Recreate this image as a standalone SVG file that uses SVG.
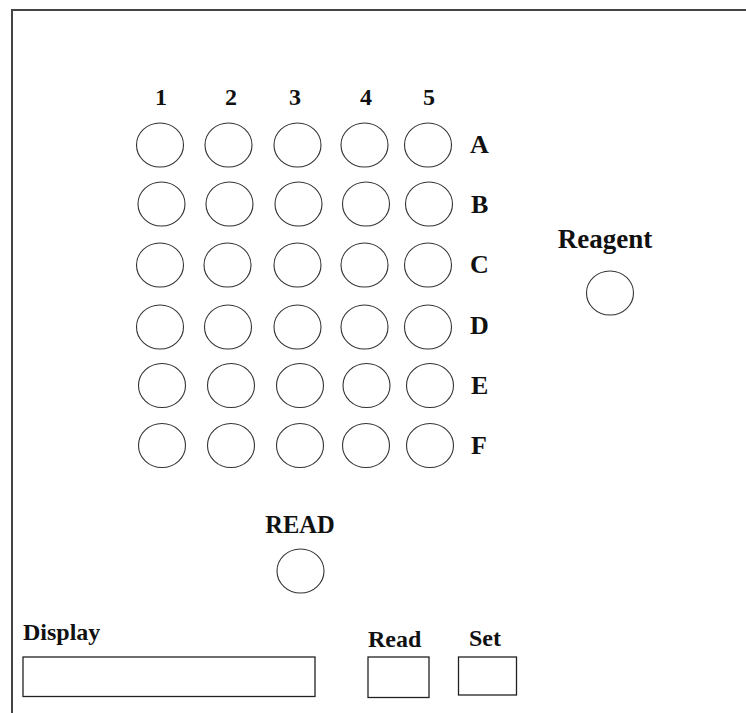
<svg xmlns="http://www.w3.org/2000/svg" width="746" height="713" viewBox="0 0 746 713">
<style>
.well{fill:none;stroke:#333;stroke-width:1.1}
.lbl{font-family:"Liberation Serif","Times New Roman",serif;font-weight:bold;font-size:24px;fill:#111}
.row{font-size:26px}
.box{fill:#fff;stroke:#222;stroke-width:1.3}
.frame{fill:none;stroke:#444;stroke-width:2}
</style>
<rect width="746" height="713" fill="#fff"/>
<path class="frame" d="M12 713 V10 H746"/>
<g id="col-labels" class="lbl" text-anchor="middle">
<text x="161" y="105">1</text>
<text x="231" y="105">2</text>
<text x="295" y="105">3</text>
<text x="366" y="105">4</text>
<text x="429" y="105">5</text>
</g>
<g id="row-labels" class="lbl row">
<text x="470" y="153">A</text>
<text x="471" y="213">B</text>
<text x="470" y="273">C</text>
<text x="470" y="334">D</text>
<text x="471" y="394">E</text>
<text x="471" y="454">F</text>
</g>
<g id="wells">
<g id="row-A">
<ellipse class="well" cx="160" cy="145" rx="23.5" ry="22"/>
<ellipse class="well" cx="228.5" cy="145" rx="23.5" ry="22"/>
<ellipse class="well" cx="297.5" cy="145" rx="23.5" ry="22"/>
<ellipse class="well" cx="364.5" cy="145" rx="23.5" ry="22"/>
<ellipse class="well" cx="428" cy="145" rx="23.5" ry="22"/>
</g>
<g id="row-B">
<ellipse class="well" cx="161.5" cy="204" rx="23.5" ry="22"/>
<ellipse class="well" cx="229.5" cy="204" rx="23.5" ry="22"/>
<ellipse class="well" cx="298.5" cy="204" rx="23.5" ry="22"/>
<ellipse class="well" cx="366" cy="204" rx="23.5" ry="22"/>
<ellipse class="well" cx="429" cy="204" rx="23.5" ry="22"/>
</g>
<g id="row-C">
<ellipse class="well" cx="160" cy="265" rx="23.5" ry="22"/>
<ellipse class="well" cx="227.5" cy="265" rx="23.5" ry="22"/>
<ellipse class="well" cx="297.5" cy="265" rx="23.5" ry="22"/>
<ellipse class="well" cx="364.5" cy="265" rx="23.5" ry="22"/>
<ellipse class="well" cx="428" cy="265" rx="23.5" ry="22"/>
</g>
<g id="row-D">
<ellipse class="well" cx="160" cy="327" rx="23.5" ry="22"/>
<ellipse class="well" cx="228" cy="327" rx="23.5" ry="22"/>
<ellipse class="well" cx="297.5" cy="327" rx="23.5" ry="22"/>
<ellipse class="well" cx="364.5" cy="327" rx="23.5" ry="22"/>
<ellipse class="well" cx="428" cy="327" rx="23.5" ry="22"/>
</g>
<g id="row-E">
<ellipse class="well" cx="162" cy="385.5" rx="23.5" ry="22"/>
<ellipse class="well" cx="231" cy="385.5" rx="23.5" ry="22"/>
<ellipse class="well" cx="300" cy="385.5" rx="23.5" ry="22"/>
<ellipse class="well" cx="366.5" cy="385.5" rx="23.5" ry="22"/>
<ellipse class="well" cx="430" cy="385.5" rx="23.5" ry="22"/>
</g>
<g id="row-F">
<ellipse class="well" cx="162" cy="445.5" rx="23.5" ry="22"/>
<ellipse class="well" cx="231" cy="445.5" rx="23.5" ry="22"/>
<ellipse class="well" cx="300" cy="445.5" rx="23.5" ry="22"/>
<ellipse class="well" cx="366" cy="445.5" rx="23.5" ry="22"/>
<ellipse class="well" cx="430" cy="445.5" rx="23.5" ry="22"/>
</g>
</g>
<g id="reagent">
<text class="lbl" x="605" y="248" text-anchor="middle" style="font-size:27px">Reagent</text>
<ellipse class="well" cx="610" cy="293" rx="23.5" ry="22"/>
</g>
<g id="read-well">
<text class="lbl" x="300" y="533" text-anchor="middle" style="font-size:24.5px">READ</text>
<ellipse class="well" cx="300.5" cy="571" rx="23.5" ry="22"/>
</g>
<g id="display">
<text class="lbl" x="23" y="640">Display</text>
<rect class="box" x="23" y="657" width="292" height="39.5"/>
</g>
<g id="read-button">
<text class="lbl" x="368" y="647">Read</text>
<rect class="box" x="368" y="657" width="61" height="40.5"/>
</g>
<g id="set-button">
<text class="lbl" x="469" y="646">Set</text>
<rect class="box" x="458.5" y="657" width="58" height="38"/>
</g>
<g id="connectors"/>
</svg>
